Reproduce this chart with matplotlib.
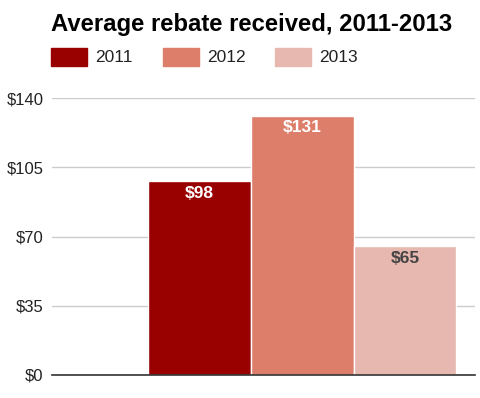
import matplotlib.pyplot as plt
from matplotlib.patches import Rectangle

years = ["2011", "2012", "2013"]
rebates = [98, 131, 65]
colors = ["#990000", "#dd7e6b", "#e6b8af"]
label_colors = ["white", "white", "#444444"]
y_ticks = [0, 35, 70, 105, 140]

plt.rcParams['font.family'] = ['Liberation Sans', 'DejaVu Sans']

fig = plt.figure(figsize=(4.8, 3.98), dpi=100)
ax = fig.add_axes([52 / 480, 23 / 398, 423 / 480, 277 / 398])

xs = list(range(len(years)))
ax.bar(xs, rebates, width=1.0, color=colors, edgecolor="white", linewidth=1.0, zorder=2)
for x, v, c in zip(xs, rebates, label_colors):
    ax.annotate("$%d" % v, (x, v), xytext=(0, -12), textcoords="offset pixels",
                ha="center", va="center", fontsize=12.5, fontweight="bold", color=c, zorder=3)

ax.set_xlim(-1.43, 2.68)
ax.set_ylim(0, 140)
ax.set_yticks(y_ticks)
ax.set_yticklabels(["$%d" % t for t in y_ticks], fontsize=12, color="#222222")
ax.tick_params(axis="y", length=0, pad=6)
ax.set_xticks([])
ax.grid(axis="y", color="#cccccc", linewidth=1.0, zorder=0)
for s in ["top", "right", "left"]:
    ax.spines[s].set_visible(False)
ax.spines["bottom"].set_color("#333333")
ax.spines["bottom"].set_linewidth(1.2)
ax.spines["bottom"].set_zorder(4)

fig.text(51 / 480, 1 - 25 / 398, "Average rebate received, 2011-2013", ha="left", va="center",
         fontsize=17.2, fontweight="bold", color="black")

# legend drawn by hand to match spacing
for i, (yr, c) in enumerate(zip(years, colors)):
    x0 = 51 + i * 112
    fig.add_artist(Rectangle((x0 / 480, 1 - 66 / 398), 36 / 480, 18 / 398,
                             transform=fig.transFigure, color=c))
    fig.text((x0 + 44) / 480, 1 - 57.5 / 398, yr, ha="left", va="center",
             fontsize=12.5, color="#222222")

fig.savefig("out.png", dpi=100)
